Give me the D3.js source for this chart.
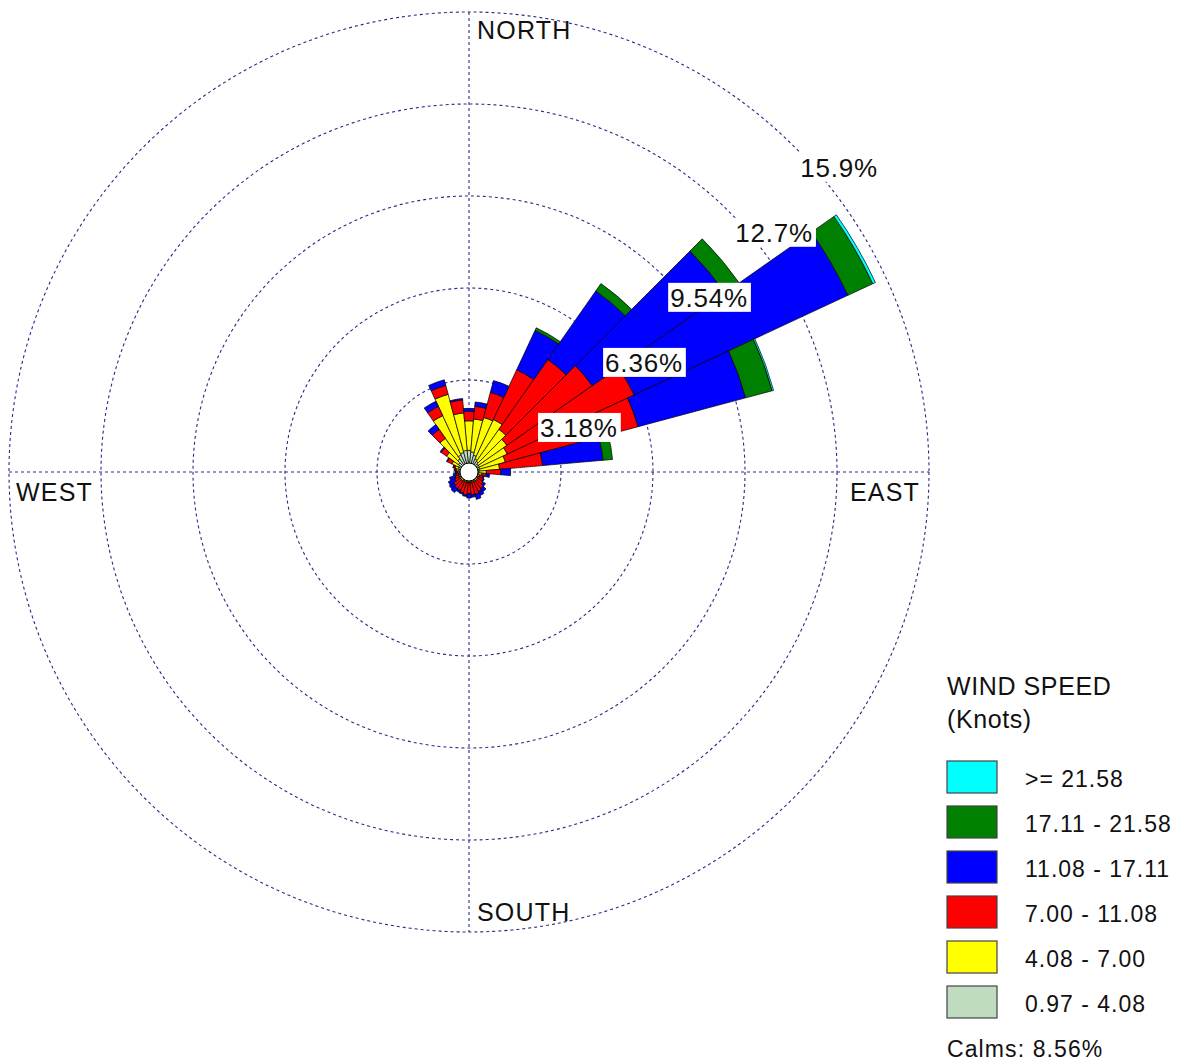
<!DOCTYPE html>
<html>
<head>
<meta charset="utf-8">
<script src="https://cdn.jsdelivr.net/npm/d3@7"></script>
<style>
  body { margin: 0; background: #fff; }
  svg { display: block; font-family: "Liberation Sans", Arial, sans-serif; }
</style>
</head>
<body>
<script>
// wind rose, 36 sectors of 10 degrees
const width = 1182;
const height = 1063;
const center = {x: 469, y: 472};
const outerRadius = 460;

// sector centers (compass degrees, 0 = north, clockwise)
const directions = d3.range(0, 360, 10);

// frequency (%) of each speed class per sector
const calm097_408 = [.75,.70,.60,.50,.45,.40,.40,.38,.36,.35,.33,.33,.33,.33,.33,.33,.33,.33,.33,.33,.33,.33,.33,.33,.33,.33,.33,.35,.36,.38,.40,.45,.55,.65,.70,.75];
const spd408_700  = [1.02,1.14,1.35,1.50,1.35,1.20,1.06,0.92,0.70,0.25,0.12,0.05,0.04,0.04,0.04,0.04,0.04,0.04,0.04,0.04,0.04,0.04,0.04,0.04,0.04,0.04,0.04,0.05,0.09,0.12,0.25,0.50,0.87,1.50,2.08,1.30];
const spd700_1108 = [0.33,0.44,0.90,1.90,2.95,3.60,4.84,4.75,1.49,0.50,0.15,0.12,0.18,0.23,0.33,0.38,0.43,0.43,0.38,0.43,0.38,0.33,0.33,0.28,0.18,0.13,0.08,0.05,0.05,0.06,0.18,0.23,0.38,0.35,0.32,0.45];
const spd1108_1711 = [0.10,0.15,0.42,1.50,2.89,5.60,8.15,3.85,2.10,0.34,0.12,0.05,0.03,0.10,0.13,0.15,0.18,0.08,0.15,0.05,0.05,0.08,0.17,0.18,0.24,0.20,0.10,0.02,0.02,0.02,0.03,0.04,0.20,0.20,0.20,0.05];
const spd1711_2158 = [0,0,0,0.10,0.31,0.60,0.95,0.95,0.33,0,0,0,0,0,0,0,0,0,0,0,0,0,0,0,0,0,0,0,0,0,0,0,0,0,0,0];
const spd2158up   = [0,0,0,0,0,0,0.10,0.05,0,0,0,0,0,0,0,0,0,0,0,0,0,0,0,0,0,0,0,0,0,0,0,0,0,0,0,0];

const classKeys = ["c1", "c2", "c3", "c4", "c5", "c6"];
const classLabels = ["0.97 - 4.08", "4.08 - 7.00", "7.00 - 11.08", "11.08 - 17.11", "17.11 - 21.58", ">= 21.58"];
const classColors = ["#c0dcc0", "#ffff00", "#ff0000", "#0000ff", "#008000", "#00ffff"];

const ringValues = [3.18, 6.36, 9.54, 12.72, 15.9];
const ringLabels = ["3.18%", "6.36%", "9.54%", "12.7%", "15.9%"];
const calms = "Calms: 8.56%";

const table = directions.map((d, i) => ({
    dir: d,
    c1: calm097_408[i], c2: spd408_700[i], c3: spd700_1108[i],
    c4: spd1108_1711[i], c5: spd1711_2158[i], c6: spd2158up[i]
}));

const stack = d3.stack().keys(classKeys)(table);

const r = d3.scaleLinear().domain([0, 15.9]).range([0, outerRadius]);
const rad = deg => deg * Math.PI / 180;

const svg = d3.select("body").append("svg")
    .attr("width", width).attr("height", height);

const g = svg.append("g").attr("transform", `translate(${center.x},${center.y})`);

const gridColor = "#2a2a86";

// dotted rings
g.append("g").selectAll("circle")
    .data(ringValues)
    .join("circle")
    .attr("r", d => r(d))
    .attr("fill", "none")
    .attr("stroke", gridColor)
    .attr("stroke-width", 1.1)
    .attr("stroke-dasharray", "3,3");

// cross lines
g.append("g").selectAll("line")
    .data([[0, -1, 0, 1], [-1, 0, 1, 0]])
    .join("line")
    .attr("x1", d => d[0] * outerRadius).attr("y1", d => d[1] * outerRadius)
    .attr("x2", d => d[2] * outerRadius).attr("y2", d => d[3] * outerRadius)
    .attr("stroke", gridColor)
    .attr("stroke-width", 1.1)
    .attr("stroke-dasharray", "3,3");

// petals
const arc = d3.arc()
    .innerRadius(d => r(d[0]))
    .outerRadius(d => r(d[1]))
    .startAngle(d => rad(d.data.dir - 5))
    .endAngle(d => rad(d.data.dir + 5));

g.append("g").selectAll("g")
    .data(stack)
    .join("g")
    .attr("fill", (d, i) => classColors[i])
    .selectAll("path")
    .data(d => d.filter(s => s[1] - s[0] > 0))
    .join("path")
    .attr("d", arc)
    .attr("stroke", "#000")
    .attr("stroke-width", 0.7)
    .attr("stroke-linejoin", "round");

// calm circle
g.append("circle")
    .attr("r", 9)
    .attr("fill", "#fff")
    .attr("stroke", "#000")
    .attr("stroke-width", 1);

// ring labels on a 45 degree line
const ringLab = g.append("g").selectAll("g")
    .data(ringValues)
    .join("g")
    .attr("transform", d => `translate(${r(d) * Math.SQRT1_2},${-r(d) * Math.SQRT1_2})`);

ringLab.append("rect").attr("fill", "#fff");
ringLab.append("text")
    .attr("x", 6).attr("y", 30)
    .attr("font-size", 26)
    .attr("letter-spacing", 0.8)
    .attr("fill", "#111")
    .text((d, i) => ringLabels[i]);
ringLab.each(function() {
    const t = d3.select(this).select("text").node().getComputedTextLength();
    d3.select(this).select("rect")
        .attr("x", 4).attr("y", 6).attr("width", t + 5).attr("height", 29);
});

// compass labels
const compass = [
    {t: "NORTH", x: 8, y: -outerRadius + 27, a: "start"},
    {t: "SOUTH", x: 8, y: outerRadius - 11, a: "start"},
    {t: "WEST", x: -outerRadius + 7, y: 29, a: "start"},
    {t: "EAST", x: outerRadius - 9, y: 29, a: "end"}
];
g.append("g").selectAll("text")
    .data(compass)
    .join("text")
    .attr("x", d => d.x).attr("y", d => d.y)
    .attr("text-anchor", d => d.a)
    .attr("font-size", 25)
    .attr("letter-spacing", 1.2)
    .attr("fill", "#111")
    .text(d => d.t);

// legend
const legend = svg.append("g").attr("transform", "translate(947,0)");
legend.append("text").attr("y", 695).attr("font-size", 25).attr("letter-spacing", 0.6)
    .attr("fill", "#111").text("WIND SPEED");
legend.append("text").attr("y", 728).attr("font-size", 25).attr("letter-spacing", 0.6)
    .attr("fill", "#111").text("(Knots)");

const order = d3.range(classKeys.length).reverse();
const item = legend.selectAll("g.item")
    .data(order)
    .join("g")
    .attr("class", "item")
    .attr("transform", (d, i) => `translate(0,${761 + i * 45})`);
item.append("rect")
    .attr("width", 50).attr("height", 32)
    .attr("fill", d => classColors[d])
    .attr("stroke", "#444").attr("stroke-width", 1.2);
item.append("text")
    .attr("x", 78).attr("y", 26)
    .attr("font-size", 23)
    .attr("letter-spacing", 1)
    .attr("fill", "#111")
    .text(d => classLabels[d]);

legend.append("text").attr("y", 1057).attr("font-size", 23).attr("letter-spacing", 1.1)
    .attr("fill", "#111").text(calms);
</script>
</body>
</html>
